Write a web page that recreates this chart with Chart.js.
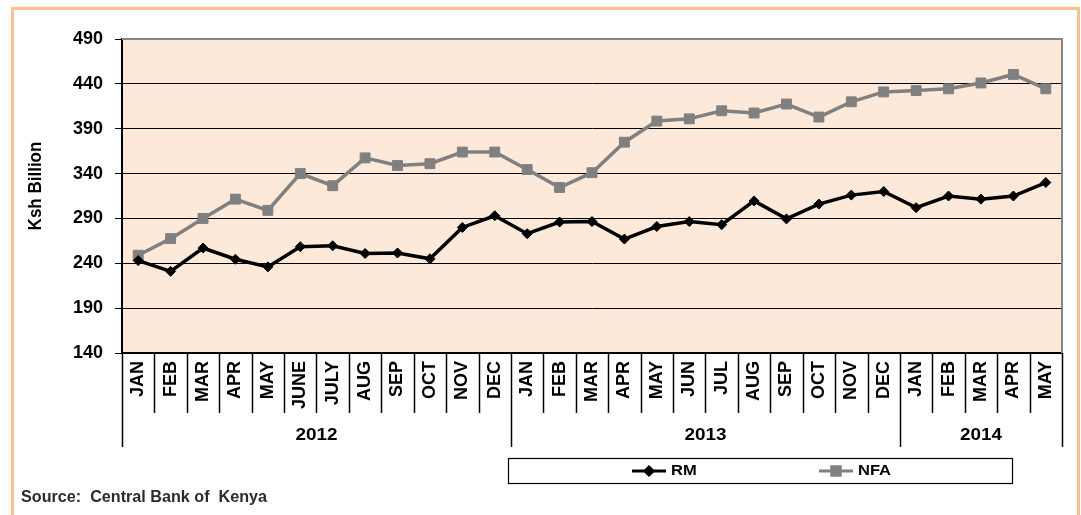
<!DOCTYPE html>
<html><head><meta charset="utf-8">
<script src="https://cdn.jsdelivr.net/npm/chart.js@4"></script>
<style>html,body{margin:0;padding:0;background:#fff;overflow:hidden}canvas{display:block}</style>
</head><body>
<canvas id="c" width="1081" height="515"></canvas>
<script>
const months = ['JAN','FEB','MAR','APR','MAY','JUNE','JULY','AUG','SEP','OCT','NOV','DEC','JAN','FEB','MAR','APR','MAY','JUN','JUL','AUG','SEP','OCT','NOV','DEC','JAN','FEB','MAR','APR','MAY'];
const years = ['2012','2013','2014'];
const yearSpans = [12,12,5];
const rm = [243,231,257,244.5,236,258.5,259.5,251,251.5,245,280,293,273,286,286.5,267,281,286.5,283,309.5,289.5,306,316,320,302,315,311.5,315,330];
const nfa = [249,267.5,290,311.5,299,340,326.5,357.5,349,351,364,364,344.5,324.5,341,375,398.5,401,410,407.5,417.5,403,420,431,432.5,434.5,441,450.5,434.5];
const yTicks = [140,190,240,290,340,390,440,490];
const yTitle = 'Ksh Billion';
const sourceText = 'Source:  Central Bank of  Kenya';
const seriesNames = ['RM','NFA'];

const F = '"Liberation Sans", Arial, sans-serif';
const SX = 1.18;

function sText(ctx, text, x, y, size, align, sx, fitW) {
  ctx.save();
  ctx.font = 'bold ' + size + 'px ' + F;
  ctx.textBaseline = 'middle';
  ctx.textAlign = align;
  if (fitW) sx = fitW / ctx.measureText(text).width;
  ctx.translate(x, y);
  ctx.scale(sx, 1);
  ctx.fillText(text, 0, 0);
  ctx.restore();
}

const deco = {
  id: 'deco',
  beforeDraw(chart) {
    const {ctx, chartArea: a} = chart;
    ctx.save();
    ctx.fillStyle = '#fff';
    ctx.fillRect(0, 0, chart.width, chart.height);
    ctx.fillStyle = '#FDE9D9';
    ctx.fillRect(a.left, a.top, a.right - a.left, a.bottom - a.top);
    ctx.strokeStyle = '#FAC090';
    ctx.lineWidth = 3;
    ctx.strokeRect(12.5, 8.5, 1066, 560);
    ctx.restore();
  },
  afterDraw(chart) {
    const {ctx, chartArea: a, scales: {x}} = chart;
    ctx.save();
    ctx.strokeStyle = '#868686';
    ctx.lineWidth = 2;
    ctx.beginPath();
    ctx.moveTo(a.left, a.top);
    ctx.lineTo(a.right, a.top);
    ctx.lineTo(a.right, a.bottom);
    ctx.stroke();

    const half = (x.getPixelForValue(1) - x.getPixelForValue(0)) / 2;
    const bounds = [0];
    yearSpans.forEach(s => bounds.push(bounds[bounds.length - 1] + s));
    ctx.strokeStyle = '#000';
    ctx.lineWidth = 1.5;
    for (let i = 0; i <= months.length; i++) {
      const px = i < months.length ? x.getPixelForValue(i) - half : x.getPixelForValue(months.length - 1) + half;
      const yEnd = bounds.includes(i) ? a.bottom + 94 : a.bottom + 60;
      ctx.beginPath();
      ctx.moveTo(Math.round(px) + 0.5, a.bottom);
      ctx.lineTo(Math.round(px) + 0.5, yEnd);
      ctx.stroke();
    }
    ctx.fillStyle = '#000';
    for (let k = 0; k < years.length; k++) {
      const x0 = x.getPixelForValue(bounds[k]) - half;
      const x1 = x.getPixelForValue(bounds[k + 1] - 1) + half;
      sText(ctx, years[k], (x0 + x1) / 2, a.bottom + 83, 16, 'center', SX);
    }

    // y title
    ctx.save();
    ctx.translate(36, 186);
    ctx.rotate(-Math.PI / 2);
    ctx.scale(1, 1.1);
    ctx.font = 'bold 17px ' + F;
    ctx.textAlign = 'center';
    ctx.textBaseline = 'middle';
    ctx.fillStyle = '#000';
    ctx.fillText(yTitle, 0, 0);
    ctx.restore();

    // legend
    ctx.fillStyle = '#fff';
    ctx.fillRect(508.5, 458.5, 504, 25);
    ctx.strokeStyle = '#000';
    ctx.lineWidth = 1.2;
    ctx.strokeRect(508.5, 458.5, 504, 25);
    const items = [{x: 632, ds: chart.data.datasets[0]}, {x: 819, ds: chart.data.datasets[1]}];
    items.forEach(it => {
      const ly = 471;
      ctx.strokeStyle = it.ds.borderColor;
      ctx.lineWidth = 3;
      ctx.beginPath();
      ctx.moveTo(it.x, ly);
      ctx.lineTo(it.x + 34, ly);
      ctx.stroke();
      ctx.fillStyle = it.ds.borderColor;
      Chart.helpers.drawPoint(ctx, {pointStyle: it.ds.pointStyle, radius: it.ds.pointStyle === 'rect' ? 6 : 4, borderWidth: 1}, it.x + 17, ly);
      ctx.fillStyle = '#000';
      sText(ctx, it.ds.label, it.x + 39, ly, 14, 'left', SX);
    });

    // source
    ctx.fillStyle = '#2b2b2b';
    sText(ctx, sourceText, 21, 497, 17, 'left', 1, 246);
    ctx.restore();
  }
};

new Chart(document.getElementById('c'), {
  type: 'line',
  data: {
    labels: months,
    datasets: [
      {label: seriesNames[0], data: rm, borderColor: '#000', backgroundColor: '#000', borderWidth: 3.5,
       pointStyle: 'rectRot', pointRadius: 5, pointBorderWidth: 1, pointBackgroundColor: '#000', pointBorderColor: '#000', tension: 0},
      {label: seriesNames[1], data: nfa, borderColor: '#808080', backgroundColor: '#808080', borderWidth: 3.5,
       pointStyle: 'rect', pointRadius: 7, pointBorderWidth: 1, pointBackgroundColor: '#808080', pointBorderColor: '#808080', tension: 0}
    ]
  },
  options: {
    responsive: false,
    animation: false,
    devicePixelRatio: 1,
    layout: {padding: {left: 0, top: 39, right: 19, bottom: 0}},
    plugins: {legend: {display: false}, tooltip: {enabled: false}},
    scales: {
      x: {
        type: 'category', offset: true,
        grid: {display: false, drawTicks: false},
        border: {display: true, color: '#000', width: 2},
        ticks: {autoSkip: false, minRotation: 90, maxRotation: 90, padding: 8, color: '#000',
                font: {family: F, size: 18, weight: 'bold'}},
        afterFit(s) { s.height = 162; }
      },
      y: {
        min: 140, max: 490,
        afterBuildTicks(s) { s.ticks = yTicks.map(v => ({value: v})); },
        grid: {color: '#000', lineWidth: 1, tickLength: 7, drawTicks: true},
        border: {color: '#000', width: 2},
        ticks: {padding: 12, color: '#000', font: {family: F, size: 18, weight: 'bold'}},
        afterFit(s) { s.width = 122; }
      }
    }
  },
  plugins: [deco]
});
</script>
</body></html>
